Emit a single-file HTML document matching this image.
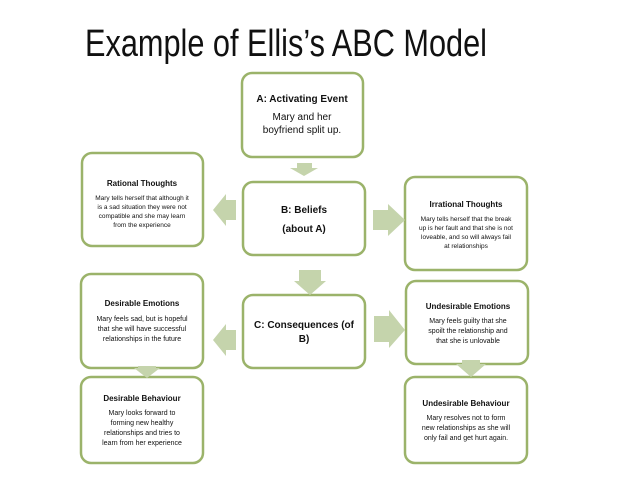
<!DOCTYPE html>
<html><head><style>body{margin:0;background:#fff}svg{display:block}</style></head><body>
<svg width="638" height="479" xmlns="http://www.w3.org/2000/svg" font-family="Liberation Sans, sans-serif">
<text x="85" y="56" font-size="38" textLength="402" lengthAdjust="spacingAndGlyphs" fill="#111">Example of Ellis’s ABC Model</text>
<g fill="#fff" stroke="#9bb36a" stroke-width="2.5">
<rect x="242" y="73" width="121" height="84" rx="10"/>
<rect x="82" y="153" width="121" height="93" rx="10"/>
<rect x="243" y="182" width="122" height="73" rx="10"/>
<rect x="405" y="177" width="122" height="93" rx="10"/>
<rect x="243" y="295" width="122" height="73" rx="10"/>
<rect x="81" y="274" width="122" height="94" rx="10"/>
<rect x="406" y="281" width="122" height="83" rx="10"/>
<rect x="81" y="377" width="122" height="86" rx="10"/>
<rect x="405" y="377" width="122" height="86" rx="10"/>
</g>
<g fill="#c5d4ac">
<polygon points="297,163 312,163 312,168 318,168 304,176 290,168 297,168"/>
<polygon points="299,270 321,270 321,281 326,281 310,295 294,281 299,281"/>
<polygon points="373,210 388,210 388,204 405,220 388,236 388,230 373,230"/>
<polygon points="374,316 389,316 389,310 405,330 389,348 389,342 374,342"/>
<polygon points="236,200 226,200 226,194 213,210 226,226 226,220 236,220"/>
<polygon points="236,330 226,330 226,324 213,340 226,356 226,350 236,350"/>
<polygon points="462,360 480,360 480,364 486,364 471,377 456,364 462,364"/>
<polygon points="138,366 156,366 156,368 160,368 147,378 134,368 138,368"/>
</g>
<g text-anchor="middle" fill="#111">
<text x="302" y="102" font-size="10" font-weight="bold">A: Activating Event</text>
<text x="302" y="120" font-size="10">Mary and her</text>
<text x="302" y="133" font-size="10">boyfriend split up.</text>
<text x="142" y="186" font-size="8" font-weight="bold">Rational Thoughts</text>
<text x="142" y="200" font-size="6.5">Mary tells herself that although it</text>
<text x="142" y="209" font-size="6.5">is a sad situation they were not</text>
<text x="142" y="218" font-size="6.5">compatible and she may learn</text>
<text x="142" y="227" font-size="6.5">from the experience</text>
<text x="304" y="213" font-size="10" font-weight="bold">B: Beliefs</text>
<text x="304" y="232" font-size="10" font-weight="bold">(about A)</text>
<text x="466" y="207" font-size="8" font-weight="bold">Irrational Thoughts</text>
<text x="466" y="221" font-size="6.5">Mary tells herself that the break</text>
<text x="466" y="230" font-size="6.5">up is her fault and that she is not</text>
<text x="466" y="239" font-size="6.5">loveable, and so will always fail</text>
<text x="466" y="248" font-size="6.5">at relationships</text>
<text x="304" y="328" font-size="10" font-weight="bold">C: Consequences  (of</text>
<text x="304" y="342" font-size="10" font-weight="bold">B)</text>
<text x="142" y="306" font-size="8" font-weight="bold">Desirable Emotions</text>
<text x="142" y="321" font-size="7">Mary feels sad, but is hopeful</text>
<text x="142" y="331" font-size="7">that she will have successful</text>
<text x="142" y="341" font-size="7">relationships in the future</text>
<text x="468" y="309" font-size="8" font-weight="bold">Undesirable Emotions</text>
<text x="468" y="323" font-size="7">Mary feels guilty that she</text>
<text x="468" y="333" font-size="7">spoilt the relationship and</text>
<text x="468" y="343" font-size="7">that she is unlovable</text>
<text x="142" y="401" font-size="8" font-weight="bold">Desirable Behaviour</text>
<text x="142" y="415" font-size="7">Mary looks forward to</text>
<text x="142" y="425" font-size="7">forming new healthy</text>
<text x="142" y="435" font-size="7">relationships and tries to</text>
<text x="142" y="445" font-size="7">learn from her experience</text>
<text x="466" y="406" font-size="8" font-weight="bold">Undesirable Behaviour</text>
<text x="466" y="420" font-size="7">Mary resolves not to form</text>
<text x="466" y="430" font-size="7">new relationships as she will</text>
<text x="466" y="440" font-size="7">only fail and get hurt again.</text>
</g>
</svg>
</body></html>
